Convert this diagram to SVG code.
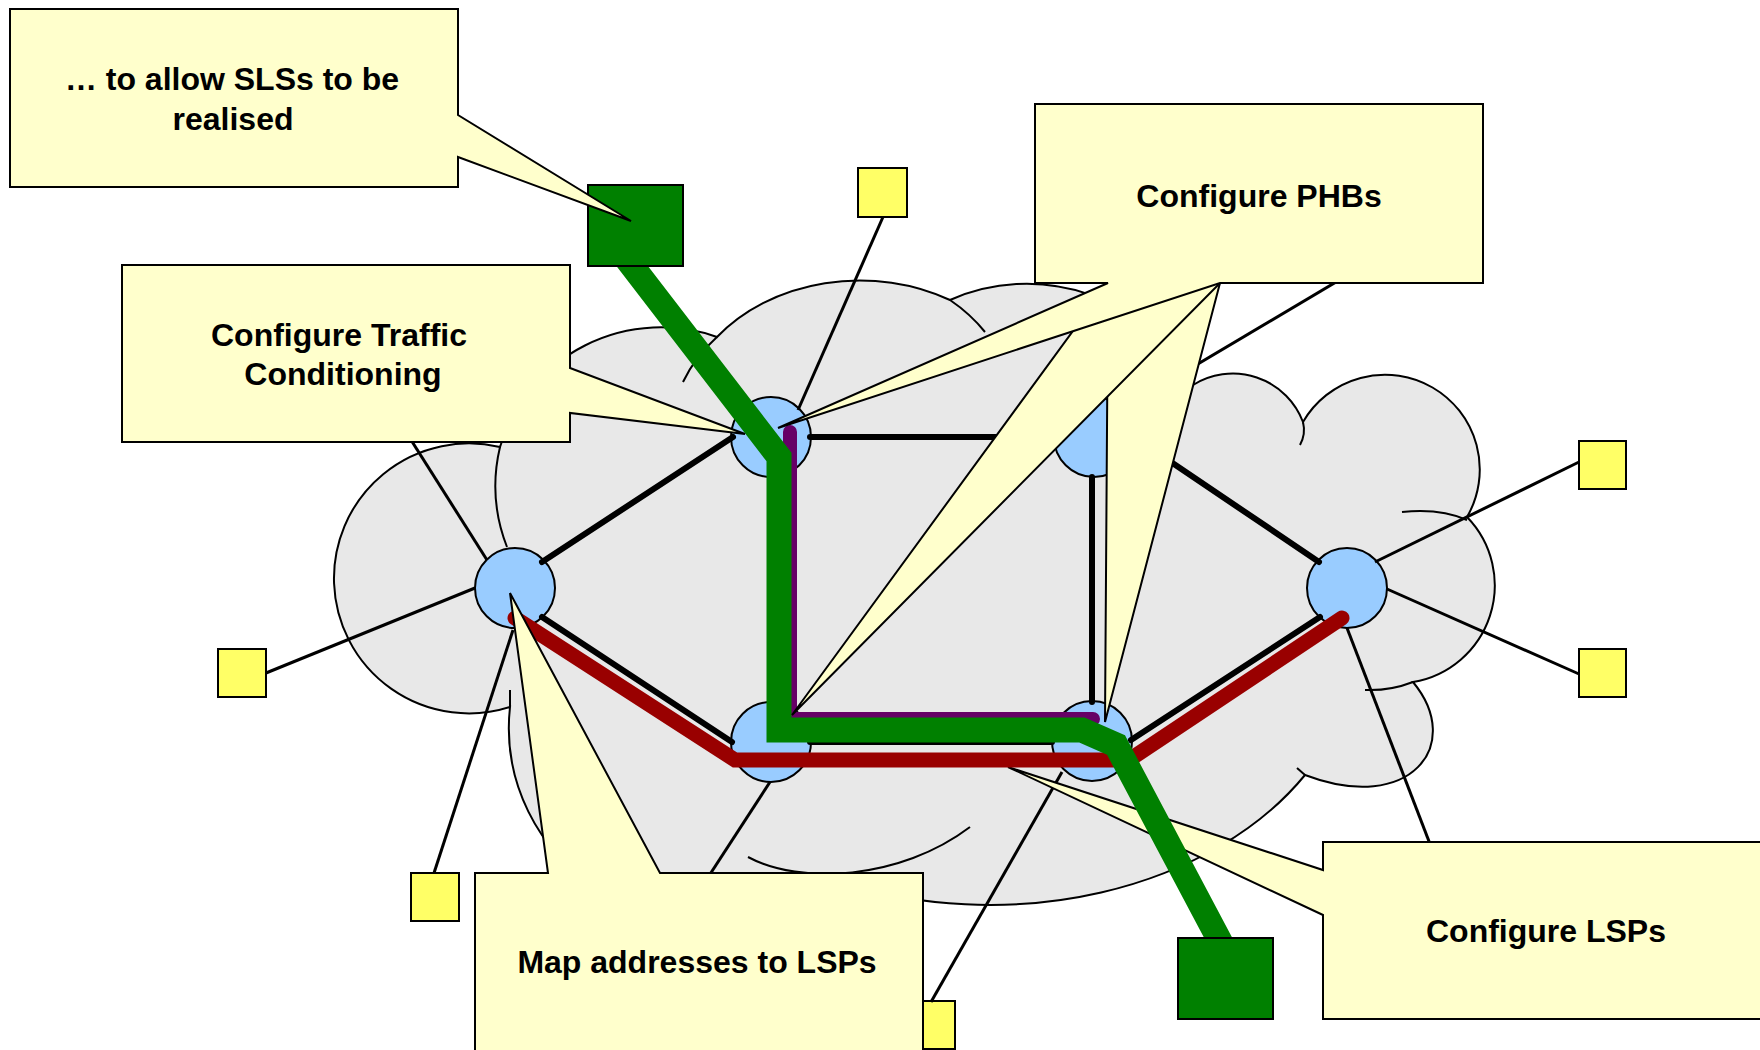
<svg xmlns="http://www.w3.org/2000/svg" width="1760" height="1050" viewBox="0 0 1760 1050">
<style>
.cloud{fill:#e8e8e8;stroke:#000;stroke-width:2}
.arc{fill:none;stroke:#000;stroke-width:2}
.thin{fill:none;stroke:#000;stroke-width:3}
.thick{fill:none;stroke:#000;stroke-width:6;stroke-linecap:round}
.node{fill:#99ccff;stroke:#000;stroke-width:2}
.host{fill:#ffff66;stroke:#000;stroke-width:2}
.site{fill:#008000;stroke:#000;stroke-width:2}
.callout{fill:#ffffcc;stroke:#000;stroke-width:2;stroke-linejoin:miter}
.label{font-family:"Liberation Sans",Arial,Helvetica,sans-serif;font-weight:bold;font-size:32px;fill:#000;text-anchor:middle}
.route{fill:none;stroke-linejoin:miter}
</style>
<rect width="1760" height="1050" fill="#ffffff"/>
<g id="cloud">
<path class="cloud" d="M510 707 A135 135 0 1 1 500 447 A168 168 0 0 1 717 337 A180 145 0 0 1 950 300 A185 180 0 0 1 1193 385 A75 75 0 0 1 1303 422 A94 94 0 0 1 1467 517 A98 98 0 0 1 1413 682 C1465 745 1410 815 1305 775 A366 265 0 0 1 841 882 L600 890 A190 190 0 0 1 510 707 Z"/>
<path class="arc" d="M500 447 A168 168 0 0 0 507 547"/>
<path class="arc" d="M717 337 A180 145 0 0 0 683 382"/>
<path class="arc" d="M950 300 A180 145 0 0 1 985 332"/>
<path class="arc" d="M1303 422 Q1306 434 1300 445"/>
<path class="arc" d="M1402 512 Q1440 508 1467 520"/>
<path class="arc" d="M1413 682 Q1390 691 1365 690"/>
<path class="arc" d="M1305 775 L1297 768"/>
<path class="arc" d="M748 857 C800 885 900 880 970 827"/>
<path class="arc" d="M510 690 L510 707"/>
</g>
<g id="router-a"><circle class="node" cx="515" cy="588" r="40"/></g>
<g id="router-b"><circle class="node" cx="771" cy="437" r="40"/></g>
<g id="router-c"><circle class="node" cx="1094" cy="437" r="40"/></g>
<g id="router-d"><circle class="node" cx="1347" cy="588" r="40"/></g>
<g id="router-e"><circle class="node" cx="771" cy="742" r="40"/></g>
<g id="router-f"><circle class="node" cx="1092" cy="741" r="40"/></g>
<g id="host-1"><rect class="host" x="218" y="649" width="48" height="48"/></g>
<g id="host-2"><rect class="host" x="411" y="873" width="48" height="48"/></g>
<g id="host-3"><rect class="host" x="858" y="168" width="49" height="49"/></g>
<g id="host-4"><rect class="host" x="1579" y="441" width="47" height="48"/></g>
<g id="host-5"><rect class="host" x="1579" y="649" width="47" height="48"/></g>
<g id="host-6"><rect class="host" x="907" y="1001" width="48" height="48"/></g>
<g id="connectors">
<line class="thin" x1="475" y1="588" x2="266" y2="673"/>
<line class="thin" x1="487" y1="560" x2="380" y2="391"/>
<line class="thin" x1="513" y1="630" x2="434" y2="873"/>
<line class="thin" x1="798" y1="410" x2="883" y2="217"/>
<line class="thin" x1="1122" y1="409" x2="1400" y2="244"/>
<line class="thin" x1="1375" y1="562" x2="1579" y2="462"/>
<line class="thin" x1="1387" y1="589" x2="1579" y2="674"/>
<line class="thin" x1="1347" y1="628" x2="1440" y2="870"/>
<line class="thin" x1="770" y1="782" x2="690" y2="905"/>
<line class="thin" x1="1062" y1="772" x2="931" y2="1002"/>
<line class="thick" x1="542" y1="562" x2="733" y2="437"/>
<line class="thick" x1="542" y1="617" x2="732" y2="742"/>
<line class="thick" x1="810" y1="437" x2="1054" y2="437"/>
<line class="thick" x1="1092" y1="477" x2="1092" y2="702"/>
<line class="thick" x1="1134" y1="437" x2="1319" y2="562"/>
<line class="thick" x1="810" y1="742" x2="1052" y2="742"/>
<line class="thick" x1="1131" y1="740" x2="1320" y2="617"/>
</g>
<g id="callout-lsps">
<path class="callout" d="M1323 842 H1775 V1019 H1323 V915 L1008 767 L1323 870 Z"/>
<text class="label" x="1546" y="942">Configure LSPs</text>
</g>
<g id="routes">
<path class="route" d="M790 432 V719 H1093" stroke="#660066" stroke-width="14" stroke-linecap="round" stroke-linejoin="round"/>
<path class="route" d="M515 618 L735 760 L1129 760 L1342 618" stroke="#990000" stroke-width="15" stroke-linecap="round"/>
<path class="route" d="M616 245 L779 457 L779 730 L1082 730 L1116 745 L1222 945" stroke="#008000" stroke-width="25"/>
</g>
<g id="site-top"><rect class="site" x="588" y="185" width="95" height="81"/></g>
<g id="site-bottom"><rect class="site" x="1178" y="938" width="95" height="81"/></g>
<g id="callout-traffic">
<path class="callout" d="M122 265 H570 V368 L745 434 L570 413 V442 H122 Z"/>
<text class="label" x="339" y="346">Configure Traffic</text>
<text class="label" x="343" y="385">Conditioning</text>
</g>
<g id="callout-sls">
<path class="callout" d="M10 9 H458 V115 L631 221 L458 157 V187 H10 Z"/>
<text class="label" x="232" y="90">… to allow SLSs to be</text>
<text class="label" x="233" y="130">realised</text>
</g>
<g id="callout-phbs">
<path class="callout" d="M1035 104 H1483 V283 H1220 L1105 722 L1108 283 H1035 Z"/>
<path class="callout" d="M1035 104 H1483 V283 H1220 L792 715 L1108 283 H1035 Z"/>
<path class="callout" d="M1035 104 H1483 V283 H1220 L778 428 L1108 283 H1035 Z"/>
<text class="label" x="1259" y="207">Configure PHBs</text>
</g>
<g id="callout-map">
<path class="callout" d="M475 873 H548 L510 593 L660 873 H923 V1065 H475 Z"/>
<text class="label" x="697" y="973">Map addresses to LSPs</text>
</g>
</svg>
